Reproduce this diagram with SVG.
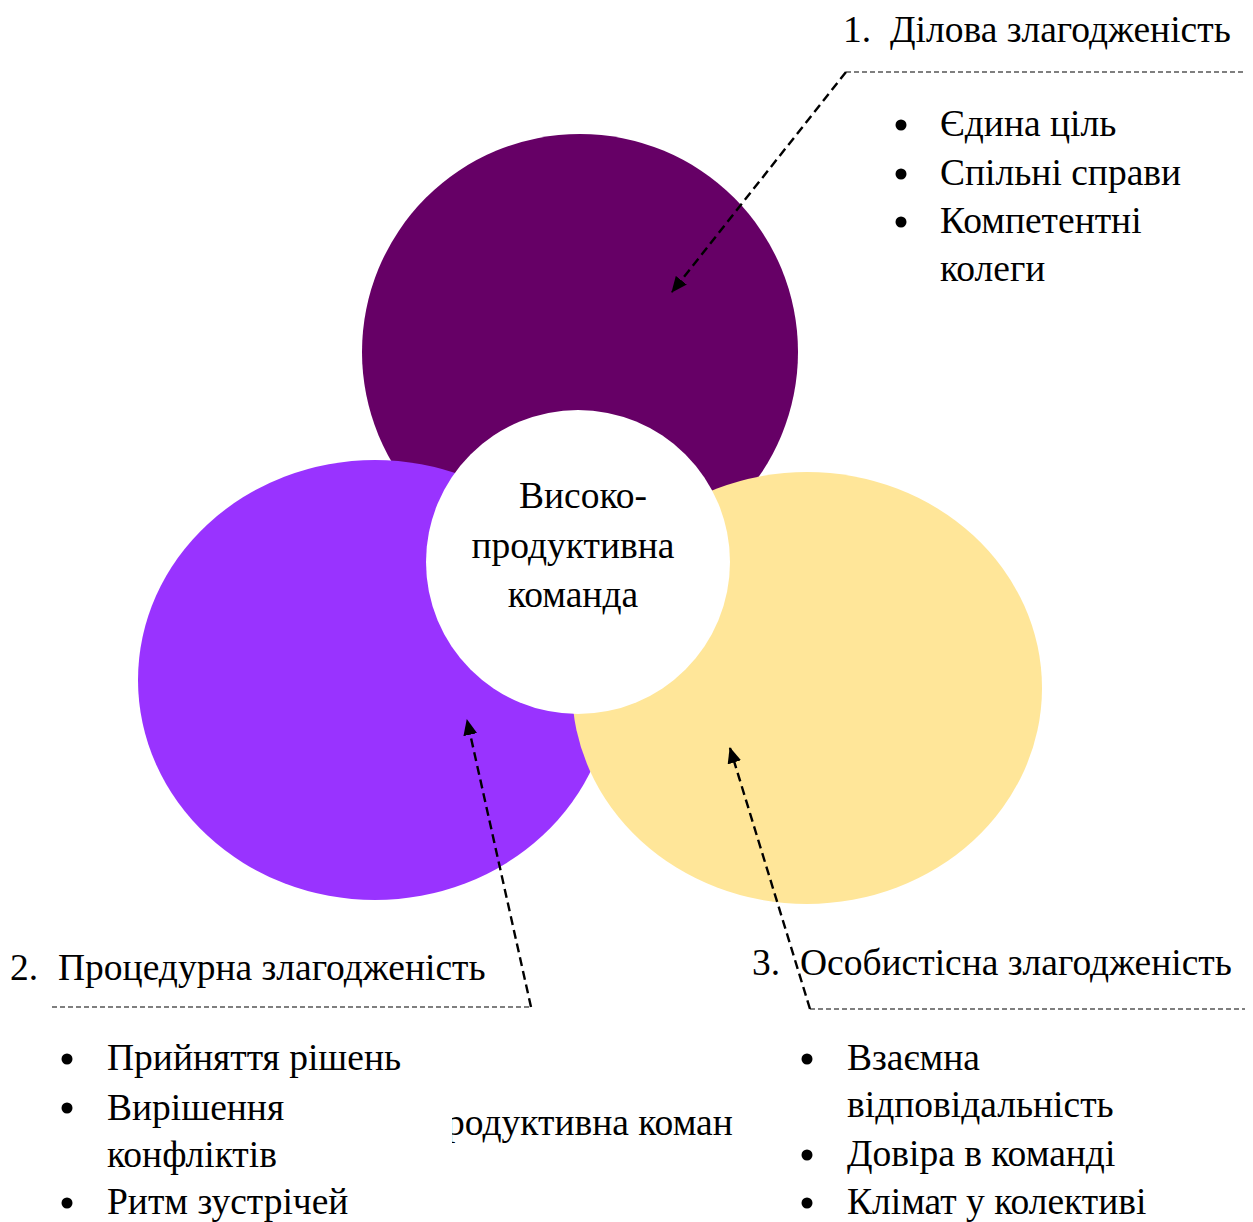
<svg xmlns="http://www.w3.org/2000/svg" width="1253" height="1222" viewBox="0 0 1253 1222">
<style>
text{font-family:"Liberation Serif","Times New Roman",serif;font-size:37.5px;fill:#000}
.c{text-anchor:middle}
.thin{fill:none;stroke:#000;stroke-width:1.2;stroke-dasharray:5 3}
.thick{fill:none;stroke:#000;stroke-width:2.4;stroke-dasharray:9 5}
.dot{fill:#000}
</style>
<defs>
<marker id="ah" viewBox="0 0 16 14" refX="15" refY="7" markerWidth="16" markerHeight="14" markerUnits="userSpaceOnUse" orient="auto">
<path d="M0,0 L16,7 L0,14 Z" fill="#000"/>
</marker>
<clipPath id="clipcut"><rect x="452" y="1090" width="290" height="60"/></clipPath>
</defs>
<rect width="1253" height="1222" fill="#fff"/>
<g id="circle-business"><ellipse cx="580" cy="352" rx="218" ry="218" fill="#660066"/></g>
<g id="circle-procedural"><ellipse cx="375" cy="680" rx="237" ry="220" fill="#9933ff"/></g>
<g id="circle-personal"><ellipse cx="807" cy="688" rx="235" ry="216" fill="#ffe699"/></g>
<g id="center">
<circle cx="578" cy="562" r="152" fill="#fff"/>
<text class="c" x="583" y="508">Високо-</text>
<text class="c" x="573" y="558">продуктивна</text>
<text class="c" x="573" y="607">команда</text>
</g>
<g id="connectors">
<path class="thin" d="M846,72 H1245"/>
<path class="thick" d="M846,72 L672,292" marker-end="url(#ah)"/>
<path class="thin" d="M52,1007 H531"/>
<path class="thick" d="M531,1007 L467,720" marker-end="url(#ah)"/>
<path class="thin" d="M810,1009 H1245"/>
<path class="thick" d="M810,1009 L730,748" marker-end="url(#ah)"/>
</g>
<g id="label-business">
<text x="843" y="42">1.</text><text x="890" y="42">Ділова злагодженість</text>
<circle class="dot" cx="901" cy="125" r="5.5"/><text x="940" y="136">Єдина ціль</text>
<circle class="dot" cx="901" cy="174" r="5.5"/><text x="940" y="185">Спільні справи</text>
<circle class="dot" cx="901" cy="222" r="5.5"/><text x="940" y="233">Компетентні</text>
<text x="940" y="281">колеги</text>
</g>
<g id="label-procedural">
<text x="10" y="980">2.</text><text x="58" y="980">Процедурна злагодженість</text>
<circle class="dot" cx="67" cy="1059" r="5.5"/><text x="107" y="1070">Прийняття рішень</text>
<circle class="dot" cx="67" cy="1108" r="5.5"/><text x="107" y="1120">Вирішення</text>
<text x="107" y="1167">конфліктів</text>
<circle class="dot" cx="67" cy="1203" r="5.5"/><text x="107" y="1214">Ритм зустрічей</text>
</g>
<g id="label-personal">
<text x="752" y="975">3.</text><text x="800" y="975">Особистісна злагодженість</text>
<circle class="dot" cx="807" cy="1059" r="5.5"/><text x="847" y="1070">Взаємна</text>
<text x="847" y="1117">відповідальність</text>
<circle class="dot" cx="807" cy="1155" r="5.5"/><text x="847" y="1166">Довіра в команді</text>
<circle class="dot" cx="807" cy="1203" r="5.5"/><text x="847" y="1214">Клімат у колективі</text>
</g>
<g id="cut-text" clip-path="url(#clipcut)">
<text x="426" y="1135">продуктивна коман</text>
</g>
</svg>
